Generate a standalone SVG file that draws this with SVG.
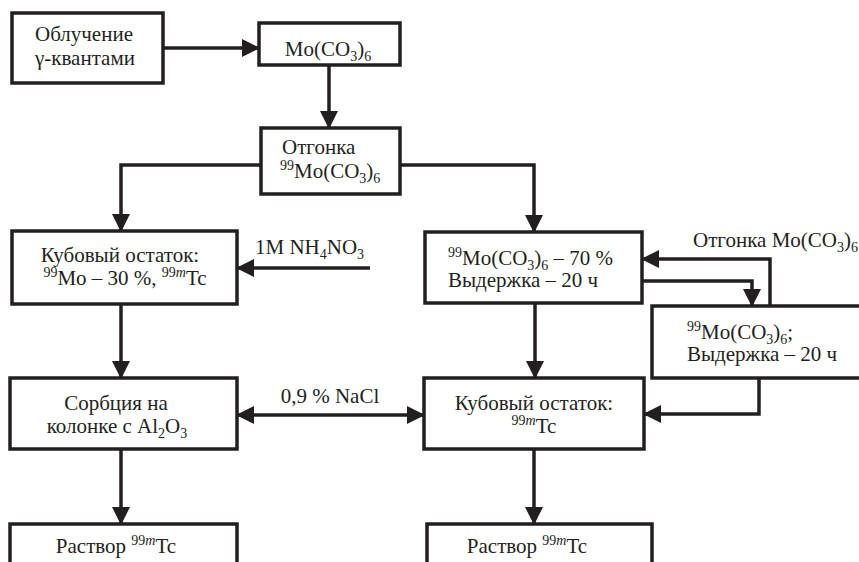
<svg xmlns="http://www.w3.org/2000/svg" width="859" height="562" viewBox="0 0 859 562">
<style>
.box{fill:#fff;stroke:#231f20;stroke-width:3.5}
.ln{fill:none;stroke:#231f20;stroke-width:3.5}
text{font-family:"Liberation Serif","Times New Roman",serif;font-size:21px;fill:#231f20}
.c{text-anchor:middle}
.s{font-size:14px}
.i{font-style:italic}
</style>
<defs>
<marker id="ah" markerUnits="userSpaceOnUse" markerWidth="18" markerHeight="18" refX="17" refY="9" orient="auto-start-reverse" viewBox="0 0 18 18">
<path d="M0,0 L18,9 L0,18 Z" fill="#231f20"/>
</marker>
</defs>
<rect width="859" height="562" fill="#fff"/>
<g id="connectors">
<path class="ln" d="M163,48 H259" marker-end="url(#ah)"/>
<path class="ln" d="M329,65 V128" marker-end="url(#ah)"/>
<path class="ln" d="M261,165 H121 V231" marker-end="url(#ah)"/>
<path class="ln" d="M400,165 H534 V232" marker-end="url(#ah)"/>
<path class="ln" d="M370,268 H237" marker-end="url(#ah)"/>
<path class="ln" d="M121,304 V378" marker-end="url(#ah)"/>
<path class="ln" d="M535,303 V378" marker-end="url(#ah)"/>
<path class="ln" d="M642,281 H752 V306" marker-end="url(#ah)"/>
<path class="ln" d="M770,306 V259 H642" marker-end="url(#ah)"/>
<path class="ln" d="M759,378 V414 H644" marker-end="url(#ah)"/>
<path class="ln" d="M237,415 H424" marker-start="url(#ah)" marker-end="url(#ah)"/>
<path class="ln" d="M121,449 V524" marker-end="url(#ah)"/>
<path class="ln" d="M534,449 V524" marker-end="url(#ah)"/>
<text x="255" y="254">1M NH<tspan class="s" dy="5">4</tspan><tspan dy="-5">NO</tspan><tspan class="s" dy="5">3</tspan></text>
<text x="693" y="247">Отгонка Mo(CO<tspan class="s" dy="5">3</tspan><tspan dy="-5">)</tspan><tspan class="s" dy="5">6</tspan></text>
<text x="330" y="403" class="c">0,9 % NaCl</text>
</g>
<g id="n1">
<rect class="box" x="12" y="13" width="151" height="70"/>
<text x="35" y="41">Облучение</text>
<text x="35" y="65">γ-квантами</text>
</g>
<g id="n2">
<rect class="box" x="259" y="23" width="141" height="42"/>
<text x="328" y="56" class="c">Mo(CO<tspan class="s" dy="5">3</tspan><tspan dy="-5">)</tspan><tspan class="s" dy="5">6</tspan></text>
</g>
<g id="n3">
<rect class="box" x="261" y="128" width="139" height="66"/>
<text x="282" y="154">Отгонка</text>
<text x="280" y="178"><tspan class="s" dy="-8">99</tspan><tspan dy="8">Mo(CO</tspan><tspan class="s" dy="5">3</tspan><tspan dy="-5">)</tspan><tspan class="s" dy="5">6</tspan></text>
</g>
<g id="n4">
<rect class="box" x="12" y="231" width="225" height="73"/>
<text x="120" y="262" class="c">Кубовый остаток:</text>
<text x="125" y="285" class="c"><tspan class="s" dy="-8">99</tspan><tspan dy="8">Mo – 30 %, </tspan><tspan class="s" dy="-8">99<tspan class="i">m</tspan></tspan><tspan dy="8">Tc</tspan></text>
</g>
<g id="n5">
<rect class="box" x="425" y="232" width="217" height="71"/>
<text x="448" y="265"><tspan class="s" dy="-8">99</tspan><tspan dy="8">Mo(CO</tspan><tspan class="s" dy="5">3</tspan><tspan dy="-5">)</tspan><tspan class="s" dy="5">6</tspan><tspan dy="-5"> – 70 %</tspan></text>
<text x="448" y="287">Выдержка – 20 ч</text>
</g>
<g id="n8">
<rect class="box" x="652" y="306" width="220" height="72"/>
<text x="687" y="339"><tspan class="s" dy="-8">99</tspan><tspan dy="8">Mo(CO</tspan><tspan class="s" dy="5">3</tspan><tspan dy="-5">)</tspan><tspan class="s" dy="5">6</tspan><tspan dy="-5">;</tspan></text>
<text x="687" y="361">Выдержка – 20 ч</text>
</g>
<g id="n6">
<rect class="box" x="10" y="378" width="227" height="71"/>
<text x="116" y="410" class="c">Сорбция на</text>
<text x="117" y="433" class="c">колонке с Al<tspan class="s" dy="5">2</tspan><tspan dy="-5">O</tspan><tspan class="s" dy="5">3</tspan></text>
</g>
<g id="n7">
<rect class="box" x="424" y="378" width="220" height="71"/>
<text x="534" y="410" class="c">Кубовый остаток:</text>
<text x="534" y="433" class="c"><tspan class="s" dy="-8">99<tspan class="i">m</tspan></tspan><tspan dy="8">Tc</tspan></text>
</g>
<g id="n9">
<rect class="box" x="10" y="524" width="227" height="60"/>
<text x="116" y="553" class="c">Раствор <tspan class="s" dy="-8">99<tspan class="i">m</tspan></tspan><tspan dy="8">Tc</tspan></text>
</g>
<g id="n10">
<rect class="box" x="427" y="524" width="225" height="60"/>
<text x="527" y="553" class="c">Раствор <tspan class="s" dy="-8">99<tspan class="i">m</tspan></tspan><tspan dy="8">Tc</tspan></text>
</g>
</svg>
